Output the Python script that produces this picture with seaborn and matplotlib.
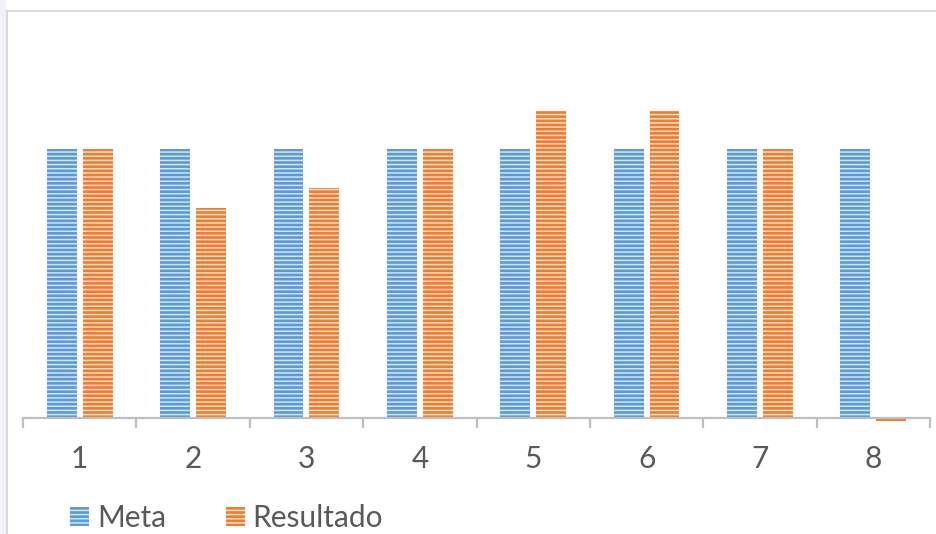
import matplotlib
matplotlib.use("Agg")
import matplotlib.pyplot as plt
import seaborn as sns
import pandas as pd
from matplotlib.patches import Patch, Rectangle
from matplotlib.lines import Line2D

categories = ["1", "2", "3", "4", "5", "6", "7", "8"]
meta = [100, 100, 100, 100, 100, 100, 100, 100]
resultado = [100, 78.3, 85.7, 100, 114.3, 114.3, 100, -1.2]
series_names = ["Meta", "Resultado"]

sns.set_theme(style="white")
plt.rcParams["font.family"] = ["Lato", "DejaVu Sans"]
plt.rcParams["hatch.linewidth"] = 1.1

df = pd.DataFrame({
    "cat": categories * 2,
    "val": meta + resultado,
    "serie": [series_names[0]] * len(categories) + [series_names[1]] * len(categories),
})

colors = {"Meta": "#5B9BD5", "Resultado": "#ED7D31"}
stripe = {"Meta": "#D3E4F4", "Resultado": "#FBDCC6"}

W, H = 936, 534
fig = plt.figure(figsize=(W / 100, H / 100), dpi=100)

ymin, ymax = -3, 140
px_per = (417.5 - 149.5) / 100.0
bot_px = 417.5 - ymin * px_per
top_px = 417.5 - ymax * px_per
ax = fig.add_axes([23 / W, (H - bot_px) / H, 907 / W, (bot_px - top_px) / H])

sns.barplot(data=df, x="cat", y="val", hue="serie", palette=colors,
            width=0.635, gap=0.17, ax=ax, legend=False, saturation=1)

for cont, name in zip(ax.containers, series_names):
    for p in cont:
        p.set_hatch("----")
        p.set_edgecolor(stripe[name])
        p.set_linewidth(0)

# the tiny negative bar: show it as plain orange
ax.containers[1][7].set_hatch(None)

ax.set_ylim(ymin, ymax)
ax.set_xlim(-0.5, 7.5)
ax.set_xlabel("")
ax.set_ylabel("")
ax.set_yticks([])
for s in ["left", "right", "top"]:
    ax.spines[s].set_visible(False)
ax.spines["bottom"].set_position(("data", 0))
ax.spines["bottom"].set_color("#BFBFBF")
ax.spines["bottom"].set_linewidth(1.6)
ax.spines["bottom"].set_zorder(5)

ax.set_xticks(range(len(categories)))
ax.set_xticklabels(categories)
ax.set_xticks([i - 0.5 for i in range(len(categories) + 1)], minor=True)
ax.tick_params(axis="x", which="major", bottom=True, length=0, pad=20, labelsize=21.5, labelcolor="#595959")
ax.tick_params(axis="x", which="minor", bottom=True, length=7.5, width=1.6, color="#BFBFBF", direction="out")
ax.patch.set_alpha(0)

handles = [Patch(facecolor=colors[n], edgecolor=stripe[n], hatch="----", linewidth=0) for n in series_names]
fig.legend(handles, series_names, loc="center left", bbox_to_anchor=(70 / W, 1 - 518 / H),
           frameon=False, ncol=2, fontsize=21.5, labelcolor="#595959",
           handlelength=0.65, handleheight=0.65, handletextpad=0.25,
           columnspacing=2.0, borderpad=0, borderaxespad=0)

fig.add_artist(Rectangle((0, 0), 6 / W, 1, transform=fig.transFigure,
                         facecolor="#F1F2F8", edgecolor="none"))
fig.add_artist(Line2D([7.5 / W, 7.5 / W], [0, 1 - 11 / H], transform=fig.transFigure,
                      color="#D9D9D9", linewidth=1.5))
fig.add_artist(Line2D([7.5 / W, 1], [1 - 11 / H, 1 - 11 / H], transform=fig.transFigure,
                      color="#D9D9D9", linewidth=1.5))

fig.savefig("out.png", dpi=100)
